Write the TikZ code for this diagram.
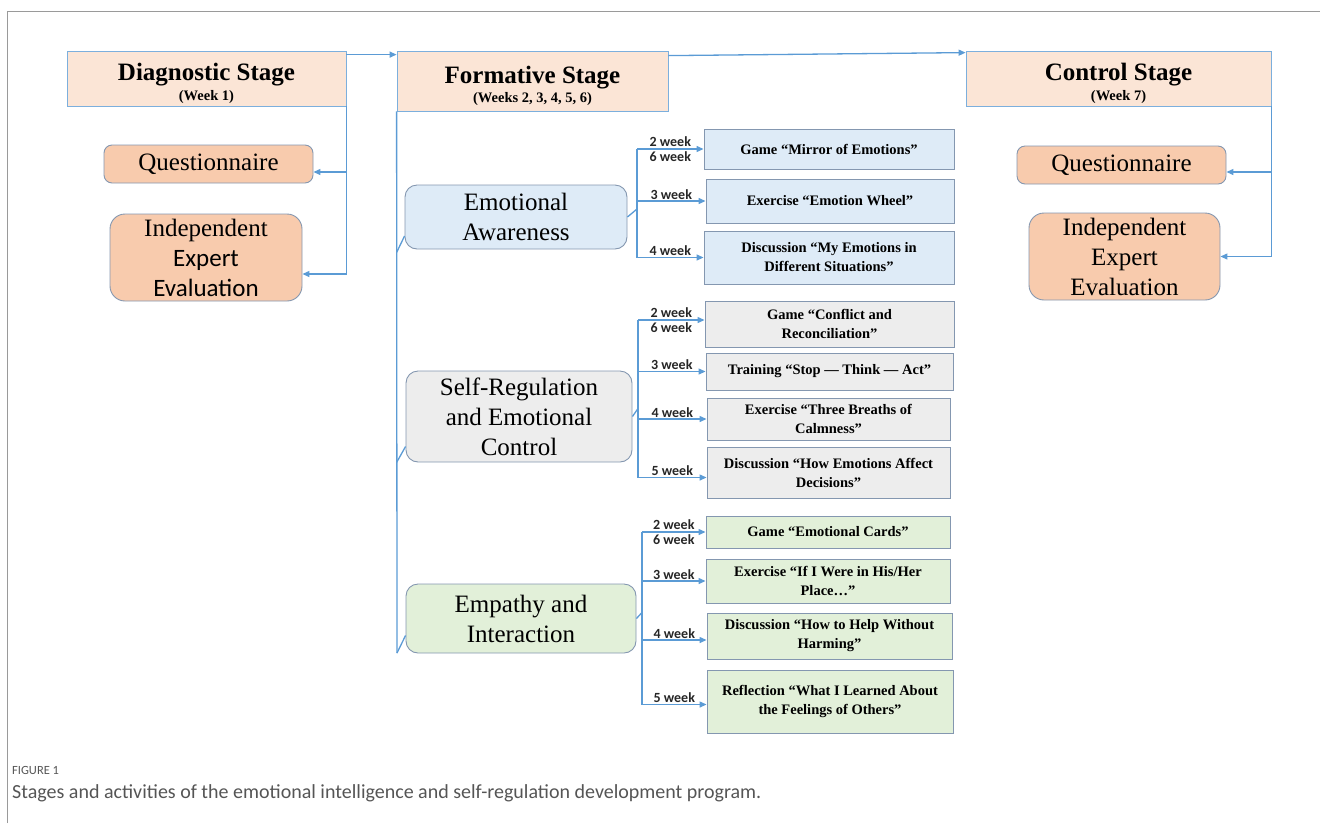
\documentclass[tikz,border=0pt]{standalone}
\usepackage{fontspec}
\setmainfont{Liberation Serif}
\newfontfamily\calibri{Carlito}
\usetikzlibrary{arrows.meta}

\definecolor{flowblue}{HTML}{5B9BD5}
\definecolor{stagefill}{HTML}{FBE5D6}
\definecolor{peach}{HTML}{F8CBAD}
\definecolor{eafill}{HTML}{DEEBF7}
\definecolor{srfill}{HTML}{EDEDED}
\definecolor{eifill}{HTML}{E2F0D9}
\definecolor{boxedge}{HTML}{8497B0}
\definecolor{framegray}{HTML}{9A9A9A}
\definecolor{captiongray}{HTML}{555555}

\tikzset{
  flowline/.style={draw=flowblue, line width=1.3pt},
  flow/.style={flowline, -{Triangle[length=7pt,width=6pt]}},
  stagebox/.style={draw=flowblue!80, line width=0.8pt, fill=stagefill, inner sep=0pt, align=center},
  evalbox/.style={draw=boxedge, line width=0.9pt, fill=peach, rounded corners=8pt, inner sep=0pt,
    align=center, font=\fontsize{25}{30}\selectfont},
  groupbox/.style={draw=boxedge, line width=0.9pt, rounded corners=12pt, inner sep=0pt,
    align=center, font=\fontsize{25}{30}\selectfont},
  actbox/.style={draw=boxedge, line width=0.9pt, inner sep=0pt, align=center,
    font=\bfseries\fontsize{14.5}{19}\selectfont},
  weeklabel/.style={font=\calibri\bfseries\fontsize{14}{15}\selectfont, inner sep=1pt, text=black!85}
}

\newcommand{\stagetitle}[2]{\rule{0pt}{27pt}{\fontsize{25}{27}\selectfont\bfseries #1}\\[3pt]{\fontsize{14.5}{16}\selectfont\bfseries #2}}

\begin{document}
\begin{tikzpicture}[x=1pt, y=-1pt]
\useasboundingbox (0,0) rectangle (1320,823);

% frame of the figure
\draw[framegray, line width=1pt] (7,823) -- (7,11) -- (1320,11);

% stages
\node[stagebox, minimum width=279, minimum height=55] (diag) at (206.5,78.5) {\stagetitle{Diagnostic Stage}{(Week 1)}};
\node[stagebox, minimum width=271, minimum height=60] (form) at (532.5,81) {\stagetitle{Formative Stage}{(Weeks 2, 3, 4, 5, 6)}};
\node[stagebox, minimum width=305, minimum height=55] (ctrl) at (1118.5,78.5) {\stagetitle{Control Stage}{(Week 7)}};

% diagnostic and control tools
\node[evalbox, minimum width=209, minimum height=38] (qL) at (208.5,164) {Questionnaire};
\node[evalbox, rounded corners=15pt, minimum width=192, minimum height=87] (indL) at (206,257.5) {Independent\\{\calibri Expert}\\{\calibri Evaluation}};
\node[evalbox, minimum width=209, minimum height=38] (qR) at (1121.5,165) {Questionnaire};
\node[evalbox, rounded corners=15pt, minimum width=191, minimum height=87] (indR) at (1124.5,256.5) {Independent\\Expert\\Evaluation};

% formative blocks
\node[groupbox, fill=eafill, minimum width=222, minimum height=64] (ea) at (516,217) {Emotional\\Awareness};
\node[groupbox, fill=srfill, minimum width=226, minimum height=91] (sr) at (519,416.5) {Self-Regulation\\and Emotional\\Control};
\node[groupbox, fill=eifill, minimum width=230, minimum height=69] (ei) at (521,618.5) {Empathy and\\Interaction};

% activities
\node[actbox, fill=eafill, minimum width=250, minimum height=40] (eaA) at (829,149) {Game “Mirror of Emotions”};
\node[actbox, fill=eafill, minimum width=248, minimum height=44] (eaB) at (830,201) {Exercise “Emotion Wheel”};
\node[actbox, fill=eafill, minimum width=250, minimum height=53] (eaC) at (829,257.5) {Discussion “My Emotions in\\Different Situations”};

\node[actbox, fill=srfill, minimum width=249, minimum height=46] (srA) at (829.5,324) {Game “Conflict and\\Reconciliation”};
\node[actbox, fill=srfill, minimum width=247, minimum height=37] (srB) at (829.5,371.5) {Training “Stop — Think — Act”};
\node[actbox, fill=srfill, minimum width=243, minimum height=42] (srC) at (828.5,419) {Exercise “Three Breaths of\\Calmness”};
\node[actbox, fill=srfill, minimum width=243, minimum height=51] (srD) at (828.5,472.5) {Discussion “How Emotions Affect\\Decisions”};

\node[actbox, fill=eifill, minimum width=244, minimum height=32] (eiA) at (828,532) {Game “Emotional Cards”};
\node[actbox, fill=eifill, minimum width=244, minimum height=44] (eiB) at (828,581) {Exercise “If I Were in His/Her\\Place…”};
\node[actbox, fill=eifill, minimum width=245, minimum height=46] (eiC) at (829.5,636) {Discussion “How to Help Without\\Harming”};
\node[actbox, fill=eifill, minimum width=246, minimum height=63] (eiD) at (830,701.5) {Reflection “What I Learned About\\the Feelings of Others”};

% stage to stage
\draw[flow] ([yshift=-4]diag.north east) -- ([yshift=-4]form.north west);
\draw[flow] ([yshift=-5]form.north east) -- ([yshift=-2]ctrl.north west);

% tools of the diagnostic and control stages
\draw[flow] (diag.south east) |- ([yshift=-8]qL.east);
\draw[flow] (diag.south east) |- ([yshift=-16.5]indL.east);
\draw[flow] (ctrl.south east) |- ([yshift=-7]qR.east);
\draw[flow] (ctrl.south east) |- (indR.east);

% formative trunk
\coordinate (fbot) at (397,653);
\draw[flowline] (form.south west) -- (fbot);
\draw[flowline] ([yshift=-3]form.south west |- ea.south) -- ([yshift=-19]ea.west);
\draw[flowline] (form.south west |- sr.south) -- ([yshift=-30]sr.west);
\draw[flowline] (fbot) -- ([yshift=-17]ei.west);

% emotional awareness
\coordinate (eaBus) at (637,0);
\draw[flowline] (ea.east) -- ([yshift=8]ea.east -| eaBus);
\draw[flowline] (eaBus |- eaA.west) -- (eaBus |- eaC.west);
\draw[flow] (eaBus |- eaA.west) -- node[weeklabel, align=center] {2 week\\6 week} (eaA.west);
\draw[flow] (eaBus |- eaB.west) -- node[weeklabel, above] {3 week} (eaB.west);
\draw[flow] (eaBus |- eaC.west) -- node[weeklabel, above] {4 week} (eaC.west);

% self-regulation
\coordinate (srBus) at (638,0);
\draw[flowline] (sr.east) -- ([yshift=8]sr.east -| srBus);
\draw[flowline] ([yshift=4]srBus |- srA.west) -- ([yshift=-5]srBus |- srD.west);
\draw[flow] ([yshift=4]srBus |- srA.west) -- node[weeklabel, align=center] {2 week\\6 week} ([yshift=4]srA.west);
\draw[flow] (srBus |- srB.west) -- node[weeklabel, above] {3 week} (srB.west);
\draw[flow] (srBus |- srC.west) -- node[weeklabel, above] {4 week} (srC.west);
\draw[flow] ([yshift=-5]srBus |- srD.west) -- node[weeklabel, above] {5 week} ([yshift=-5]srD.west);

% empathy
\coordinate (eiBus) at (642,0);
\draw[flowline] (ei.east) -- ([yshift=6]ei.east -| eiBus);
\draw[flowline] (eiBus |- eiA.west) -- ([yshift=-3]eiBus |- eiD.west);
\draw[flow] (eiBus |- eiA.west) -- node[weeklabel, align=center] {2 week\\6 week} (eiA.west);
\draw[flow] (eiBus |- eiB.west) -- node[weeklabel, above] {3 week} (eiB.west);
\draw[flow] ([yshift=-4]eiBus |- eiC.west) -- node[weeklabel, above] {4 week} ([yshift=-4]eiC.west);
\draw[flow] ([yshift=-3]eiBus |- eiD.west) -- node[weeklabel, above] {5 week} ([yshift=-3]eiD.west);

% caption
\node[anchor=base west, inner sep=0pt, text=captiongray, font=\calibri\fontsize{12.5}{14}\selectfont] (figno) at (12,774) {FIGURE 1};
\node[anchor=base west, inner sep=0pt, text=captiongray, font=\calibri\fontsize{20}{22}\selectfont] (caption) at (12,798) {Stages and activities of the emotional intelligence and self-regulation development program.};
\end{tikzpicture}
\end{document}
